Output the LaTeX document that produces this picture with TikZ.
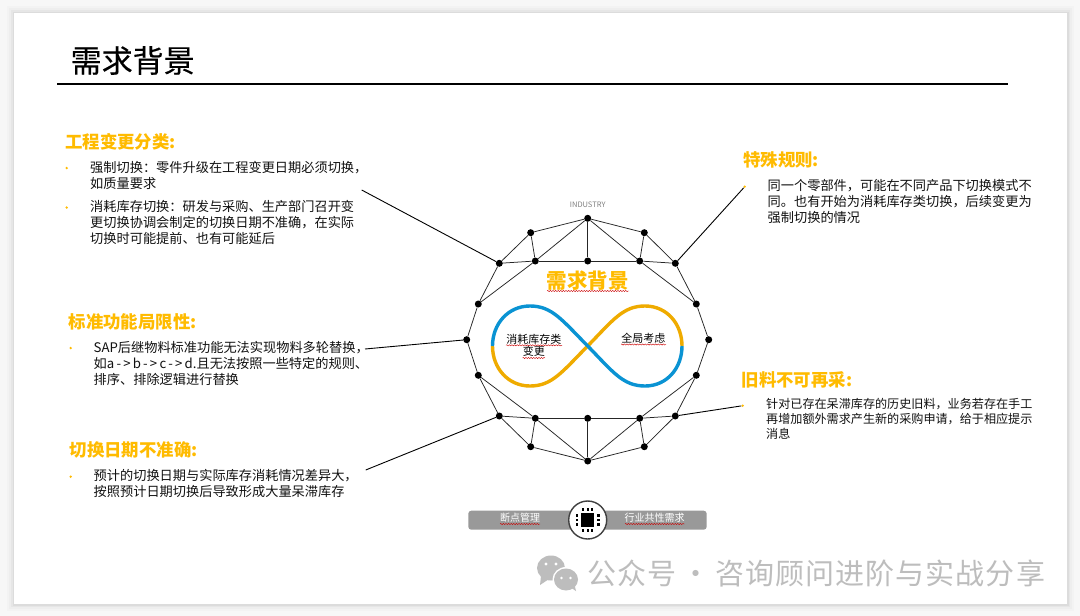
\documentclass[tikz,border=0pt]{standalone}
\usepackage{fontspec}
\usetikzlibrary{decorations.pathmorphing}
\setmainfont{Noto Sans CJK SC}
\newfontfamily\wmfont[LetterSpace=3.8]{Noto Sans CJK SC}
\newfontfamily\titlefont[FakeBold=0.4]{Noto Sans CJK SC}
\newcommand{\fwc}{\char"FF0C\relax}
\newcommand{\fwk}{\char"FF1A\relax}
\definecolor{hdr}{HTML}{FFBB00}
\definecolor{bodyc}{HTML}{111111}
\definecolor{blueinf}{HTML}{0A93D3}
\definecolor{yelinf}{HTML}{EFAB00}
\definecolor{wm}{HTML}{BDBDBD}
\tikzset{
  heading/.style={anchor=west,inner sep=0pt,text=hdr,font=\fontsize{17.4}{20}\selectfont\bfseries},
  para/.style={anchor=north west,inner sep=0pt,align=left,text=bodyc,font=\fontsize{13.2}{16}\selectfont},
  paras/.style={anchor=north west,inner sep=0pt,align=left,text=bodyc,font=\fontsize{12.1}{15}\selectfont},
  bul/.style={circle,fill=hdr,inner sep=0pt,minimum size=2.6pt},
  vertex/.style={circle,fill=black,inner sep=0pt,minimum size=7pt},
  edge/.style={draw=black!85,line width=0.75pt},
  lead/.style={draw=black,line width=0.9pt},
  squig/.style={draw=red!80!black,line width=0.4pt,decorate,decoration={snake,amplitude=0.6pt,segment length=2.6pt}},
  inf/.style={line width=3.4pt,line cap=butt},
  pin/.style={fill=black,inner sep=0pt,minimum width=2.4pt,minimum height=2.4pt},
  ctext/.style={inner sep=0pt,text=black,font=\fontsize{11}{13}\selectfont},
  bartext/.style={inner sep=0pt,text=white,font=\fontsize{10}{12}\selectfont},
}
\begin{document}
\begin{tikzpicture}[x=1pt,y=-1pt]
\useasboundingbox (0,0) rectangle (1080,616);
% page and slide
\fill[white!97!black] (0,0) rectangle (1080,616);
\foreach \d/\o in {7/0.015,5/0.02,3/0.03,1.5/0.04}{
  \fill[black,opacity=\o] (14-\d,13-\d) rectangle (1067+\d,604+\d);
}
\fill[white] (14,13) rectangle (1067,604);
% title
\node[anchor=west,inner sep=0pt,text=black,font=\titlefont\fontsize{31}{34}\selectfont] (title) at (70.5,60.5) {需求背景};
\coordinate (ruleL) at (57,84.3);
\coordinate (ruleR) at (1008,84.3);
\draw[black,line width=2pt] (ruleL) -- (ruleR);

% left column
\node[heading] (h1) at (65,141.5) {工程变更分类:};
\node[bul] (b11) at (66.7,168) {};
\node[para] (p11) at (90,161) {强制切换\fwk 零件升级在工程变更日期必须切换\fwc\\如质量要求};
\node[bul] (b12) at (66.7,207.5) {};
\node[para] (p12) at (90,200.5) {消耗库存切换\fwk 研发与采购、生产部门召开变\\更切换协调会制定的切换日期不准确\fwc 在实际\\切换时可能提前、也有可能延后};
\node[heading] (h2) at (68.5,321.5) {标准功能局限性:};
\node[bul] (b21) at (70.7,348) {};
\node[para] (p21) at (93.5,341) {SAP后继物料标准功能无法实现物料多轮替换\fwc\\如a\,-\,>\,b\,-\,>\,c\,-\,>\,d.且无法按照一些特定的规则、\\排序、排除逻辑进行替换};
\node[heading] (h3) at (69.5,450) {切换日期不准确:};
\node[bul] (b31) at (70.7,476.7) {};
\node[para] (p31) at (93.5,469.5) {预计的切换日期与实际库存消耗情况差异大\fwc\\按照预计日期切换后导致形成大量呆滞库存};

% right column
\node[heading] (h4) at (743,160) {特殊规则:};
\node[bul] (b41) at (744.7,186.7) {};
\node[para] (p41) at (767.5,179.5) {同一个零部件\fwc 可能在不同产品下切换模式不\\同。也有开始为消耗库存类切换\fwc 后续变更为\\强制切换的情况};
\node[heading] (h5) at (741.5,380) {旧料不可再采:};
\node[bul] (b51) at (742.7,405.7) {};
\node[paras] (p51) at (766,398.5) {针对已存在呆滞库存的历史旧料\fwc 业务若存在手工\\再增加额外需求产生新的采购申请\fwc 给于相应提示\\消息};

% network vertices
\node[inner sep=0pt,text=black!50,font=\fontsize{7.5}{9}\selectfont] (ind) at (587.7,204.3) {INDUSTRY};
\foreach \n/\x/\y in {T/587.7/218.3,a1/530.7/232.7,a2/644.3/232.7,
  v1/499.3/263.3,v2/535.3/261,v3/587.7/261,v4/639.7/261,v5/675.3/263.3,
  c1/478.3/304,c2/696.3/304,d1/466.7/339.7,d2/708.7/339.7,e1/478.3/375.3,e2/696.3/375.3,
  f1/499.3/416,f2/535.3/418.3,f3/587.7/418.3,f4/639.7/418.3,f5/675.3/416,
  g1/530.7/446.7,g2/644.3/446.7,B/587.7/461}{
  \node[vertex] (\n) at (\x,\y) {};
}
\foreach \p/\q in {T/a1,T/a2,T/v2,T/v3,T/v4,a1/v1,a1/v2,a2/v4,a2/v5,
  v1/v2,v2/v3,v3/v4,v4/v5,v1/c1,v2/c1,v4/c2,v5/c2,c1/d1,c2/d2,d1/e1,d2/e2,
  e1/f1,e1/f2,e2/f4,e2/f5,f1/f2,f2/f3,f3/f4,f4/f5,
  f1/g1,f2/g1,f4/g2,f5/g2,g1/B,g2/B,f2/B,f3/B,f4/B}{
  \draw[edge] (\p) -- (\q);
}
% leader lines
\coordinate (l1) at (361.7,190);
\coordinate (l2) at (365,349);
\coordinate (l3) at (365.7,470);
\draw[lead] (v1) -- (l1);
\draw[lead] (d1) -- (l2);
\draw[lead] (f1) -- (l3);
\draw[lead] (v5) -- (b41);
\draw[lead] (f5) -- (b51);

% infinity
\draw[inf,yelinf] (492.5,346) .. controls (492.5,368) and (508,386) .. (530,386)
   .. controls (552,386) and (562,372) .. (587.7,346)
   .. controls (613,320) and (623,306) .. (645,306)
   .. controls (667,306) and (682,324) .. (682,346);
\draw[inf,blueinf] (492.5,346) .. controls (492.5,324) and (508,306) .. (530,306)
   .. controls (552,306) and (562,320) .. (587.7,346)
   .. controls (613,372) and (623,386) .. (645,386)
   .. controls (667,386) and (682,368) .. (682,346);

% centre labels
\node[inner sep=0pt,text=hdr,font=\fontsize{20.5}{24}\selectfont\bfseries] (ct) at (587.7,281) {需求背景};
\node[ctext] (cl1) at (533.8,339) {消耗库存类};
\node[ctext] (cl2) at (533.8,351.7) {变更};
\node[ctext] (cr) at (643.3,338.3) {全局考虑};
\draw[squig] (547,291) -- (629,291);
\draw[squig] (506,345.3) -- (562,345.3);
\draw[squig] (522.5,358) -- (545,358);
\draw[squig] (621,344.5) -- (666,344.5);

% bottom bar
\fill[black!40,rounded corners=3pt] (468.3,510.7) rectangle (706.7,529.7);
\node[bartext] (bl) at (520,518) {断点管理};
\node[bartext] (br) at (654.5,518) {行业共性需求};
\draw[squig] (500,524) -- (540,524);
\draw[squig] (625,524) -- (684.5,524);
\node[circle,draw=black!75,line width=1.4pt,fill=white,minimum size=38pt,inner sep=0pt] (chipring) at (587.7,520) {};
\node[fill=black,minimum width=13.5pt,minimum height=13.5pt,inner sep=0pt] (chip) at (587.7,520) {};
\foreach \k in {-4.5,0,4.5}{
  \node[pin] at (587.7+\k,509.6) {};
  \node[pin] at (587.7+\k,530.4) {};
  \node[pin] at (577,520+\k) {};
  \node[pin] at (598.4,520+\k) {};
}

% watermark
\fill[wm] (551,568) ellipse (14pt and 12.5pt);
\fill[wm] (541,576) -- (540,585) -- (549,579) -- cycle;
\fill[white] (566,579.5) ellipse (13.5pt and 12.5pt);
\fill[wm] (566,579.5) ellipse (12pt and 11pt);
\fill[wm] (570,587) -- (576,591) -- (574,583) -- cycle;
\fill[white] (546,564) circle (1.7pt) (556,564) circle (1.7pt) (561.5,578) circle (1.4pt) (570.5,578) circle (1.4pt);
\node[anchor=west,inner sep=0pt,text=wm,font=\wmfont\fontsize{29}{32}\selectfont] (wmt) at (587,574) {公众号\,·\,咨询顾问进阶与实战分享};
\end{tikzpicture}
\end{document}
